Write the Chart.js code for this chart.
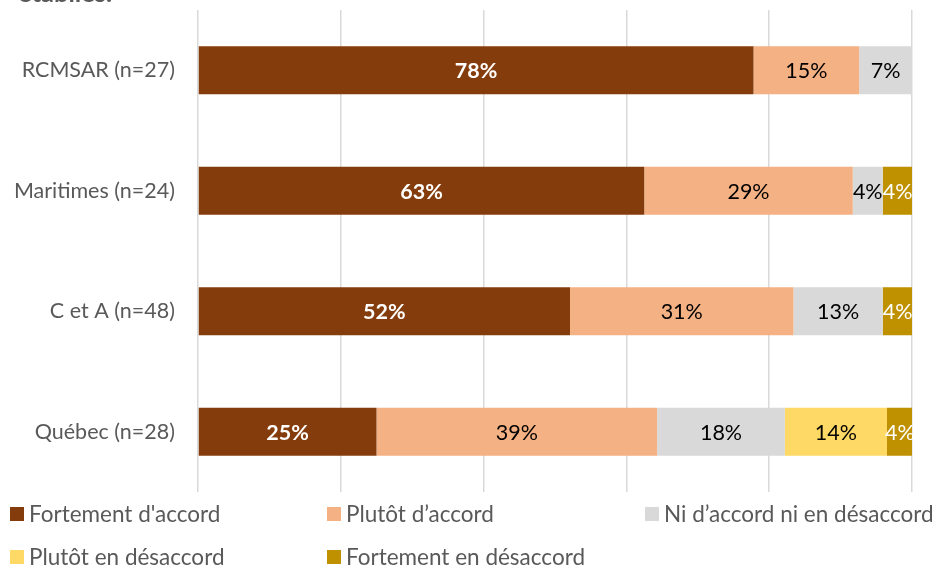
<!DOCTYPE html>
<html><head><meta charset="utf-8">
<script src="https://cdn.jsdelivr.net/npm/chart.js@4/dist/chart.umd.min.js"></script>
<style>
html,body{margin:0;padding:0;background:#fff;overflow:hidden}
#wrap{position:relative;width:933px;height:570px}
#c{position:absolute;left:0;top:0}
.title{position:absolute;left:18px;top:-23px;font:bold 25.5px Lato,sans-serif;line-height:30px;color:#595959;white-space:nowrap}
.lg{position:absolute;font:22.5px Lato,sans-serif;line-height:28px;color:#595959;white-space:nowrap;display:flex;align-items:center}
.lg span.sw{display:inline-block;width:14px;height:14px;margin-right:5px}
</style></head>
<body><div id="wrap"><canvas id="c" width="933" height="570"></canvas>
<div class="title">établies.</div>
<div id="legend"></div></div>
<script>
const categories = ['RCMSAR (n=27)', 'Maritimes (n=24)', 'C et A (n=48)', 'Québec (n=28)'];
const seriesNames = ["Fortement d'accord", 'Plutôt d’accord', 'Ni d’accord ni en désaccord', 'Plutôt en désaccord', 'Fortement en désaccord'];
const fortementAccord = [77.8, 62.5, 52.1, 25.0];
const plutotAccord = [14.8, 29.2, 31.3, 39.3];
const niAccordNiDesaccord = [7.4, 4.2, 12.5, 17.9];
const plutotDesaccord = [0, 0, 0, 14.3];
const fortementDesaccord = [0, 4.2, 4.2, 3.6];
const xTicks = [0, 20, 40, 60, 80, 100];

const colors = ['#843C0C', '#F4B183', '#D9D9D9', '#FFD966', '#BF9000'];
const labelColors = ['#FFFFFF', '#000000', '#000000', '#000000', '#FFFFFF'];
const seriesData = [fortementAccord, plutotAccord, niAccordNiDesaccord, plutotDesaccord, fortementDesaccord];

const labelPlugin = {
  id: 'barLabels',
  afterDatasetsDraw(chart) {
    const ctx = chart.ctx;
    ctx.save();
    ctx.textAlign = 'center';
    ctx.textBaseline = 'middle';
    chart.data.datasets.forEach((ds, i) => {
      const meta = chart.getDatasetMeta(i);
      meta.data.forEach((el, j) => {
        const v = ds.data[j];
        if (!v) return;
        const p = el.getProps(['x', 'y', 'base'], true);
        ctx.font = (i === 0 ? 'bold ' : '') + '21.5px Lato, sans-serif';
        ctx.fillStyle = labelColors[i];
        ctx.fillText(Math.round(v) + '%', (p.x + p.base) / 2, p.y + 1);
      });
    });
    ctx.restore();
  }
};

const chart = new Chart(document.getElementById('c'), {
  type: 'bar',
  data: {
    labels: categories,
    datasets: seriesNames.map((n, i) => ({
      label: n, data: seriesData[i], backgroundColor: colors[i],
      categoryPercentage: 1, barPercentage: 0.4
    }))
  },
  options: {
    indexAxis: 'y', responsive: false, animation: false,
    layout: { padding: { left: 0, right: 21, top: 10, bottom: 78 } },
    plugins: { legend: { display: false }, tooltip: { enabled: false }, title: { display: false } },
    scales: {
      x: {
        stacked: true, min: 0, max: 100,
        afterBuildTicks(s) { s.ticks = xTicks.map(v => ({ value: v })); },
        ticks: { display: false },
        grid: { color: '#D9D9D9', lineWidth: 1.5, drawTicks: false },
        border: { display: false },
        afterFit(s) { s.height = 0; s.paddingLeft = 0; s.paddingRight = 0; }
      },
      y: {
        stacked: true,
        ticks: { color: '#595959', font: { family: 'Lato', size: 21.5 }, padding: 23 },
        grid: { display: false, drawTicks: false },
        border: { display: false },
        afterFit(s) { s.width = 198; s.paddingTop = 0; s.paddingBottom = 0; }
      }
    }
  },
  plugins: [labelPlugin]
});

const legendPos = [[10, 514], [327, 514], [645, 514], [10, 557], [327, 557]];
const lg = document.getElementById('legend');
seriesNames.forEach((n, i) => {
  const d = document.createElement('div');
  d.className = 'lg';
  d.style.left = legendPos[i][0] + 'px';
  d.style.top = (legendPos[i][1] - 14) + 'px';
  d.innerHTML = '<span class="sw" style="background:' + colors[i] + '"></span>' + n;
  lg.appendChild(d);
});
</script></body></html>
